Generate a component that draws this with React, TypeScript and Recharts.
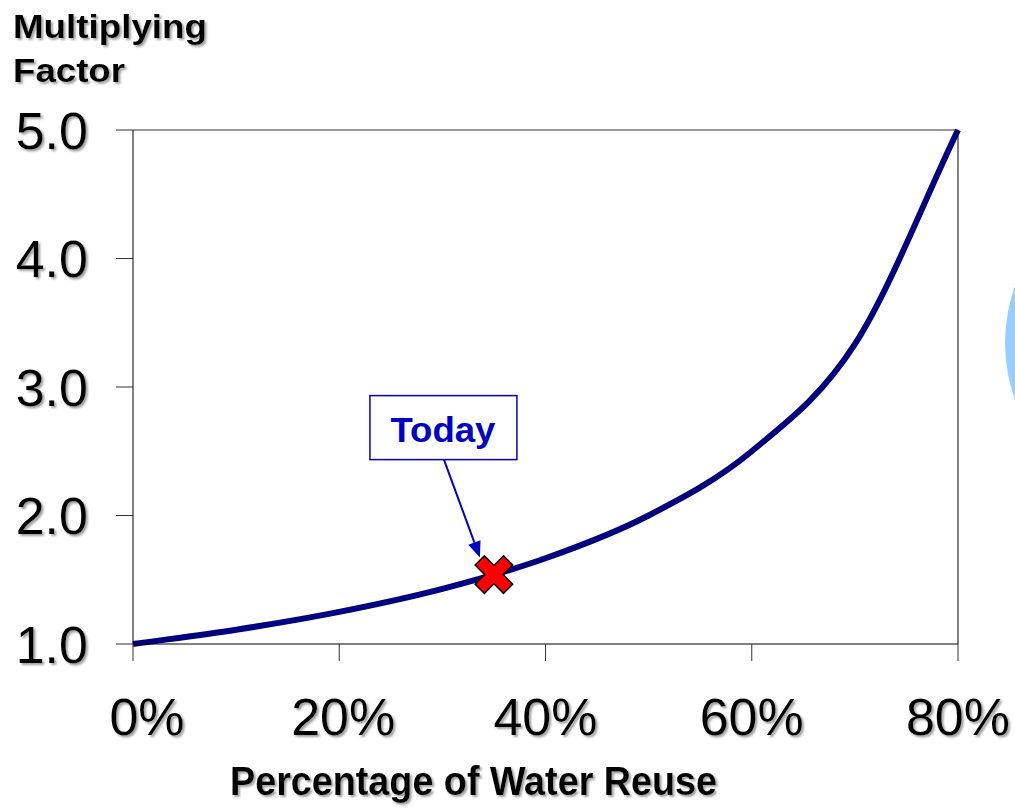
import { LineChart, Line, XAxis, YAxis, ReferenceLine, ReferenceDot } from 'recharts'

const reusePct = [0, 0.1, 0.2, 0.3, 0.4, 0.5, 0.6, 0.7, 0.8]
const factor = [1.0, 1.111, 1.25, 1.429, 1.667, 2.0, 2.5, 3.333, 5.0]
const xTicks = [0, 0.2, 0.4, 0.6, 0.8]
const yTicks = [1, 2, 3, 4, 5]
const todayPct = 0.35
const todayFactor = 1.54
const todayLabel = 'Today'
const yTitle = ['Multiplying', 'Factor']
const xTitle = 'Percentage of Water Reuse'

const data = reusePct.map((pct, i) => ({ pct, factor: factor[i] }))

const font = 'Arial, "Liberation Sans", Helvetica, sans-serif'

// Excel-style smoothed line (Catmull-Rom through the points)
function smoothCurve(context: any) {
  let pts: number[][] = []
  return {
    areaStart() {},
    areaEnd() {},
    lineStart() {
      pts = []
    },
    lineEnd() {
      const n = pts.length
      if (!n) return
      context.moveTo(pts[0][0], pts[0][1])
      for (let i = 0; i < n - 1; i++) {
        const p1 = pts[i]
        const p2 = pts[i + 1]
        const p0 = i > 0 ? pts[i - 1] : [2 * p1[0] - p2[0], 2 * p1[1] - p2[1]]
        const p3 = i + 2 < n ? pts[i + 2] : [2 * p2[0] - p1[0], 2 * p2[1] - p1[1]]
        context.bezierCurveTo(
          p1[0] + (p2[0] - p0[0]) / 6,
          p1[1] + (p2[1] - p0[1]) / 6,
          p2[0] - (p3[0] - p1[0]) / 6,
          p2[1] - (p3[1] - p1[1]) / 6,
          p2[0],
          p2[1],
        )
      }
    },
    point(x: number, y: number) {
      pts.push([+x, +y])
    },
  }
}

function YTick({ x, y, payload }: any) {
  return (
    <text x={x} y={y} dy="0.36em" textAnchor="end" fontSize={52} fontFamily={font} fill="#000" filter="url(#txtShadow)">
      {Number(payload.value).toFixed(1)}
    </text>
  )
}

function XTick({ x, y, payload, index }: any) {
  const shift = index === 0 ? 14 : index === 1 ? 4 : 0
  return (
    <text x={x + shift} y={y} dy="0.72em" textAnchor="middle" fontSize={52} fontFamily={font} fill="#000" filter="url(#txtShadow)">
      {`${Math.round(payload.value * 100)}%`}
    </text>
  )
}

function TodayMarker({ cx, cy }: any) {
  if (cx == null || cy == null) return null
  const w = 6.5
  const L = 20
  const cross = [
    [-w, -L], [w, -L], [w, -w], [L, -w], [L, w], [w, w],
    [w, L], [-w, L], [-w, w], [-L, w], [-L, -w], [-w, -w],
  ].map(([a, b]) => `${a},${b}`).join(' ')
  const x1 = cx - 50
  const y1 = cy - 115
  const x2 = cx - 14
  const y2 = cy - 17
  const len = Math.hypot(x2 - x1, y2 - y1)
  const ux = (x2 - x1) / len
  const uy = (y2 - y1) / len
  const hl = 16
  const hw = 6.5
  const bx = x2 - ux * hl
  const by = y2 - uy * hl
  const head = `${x2},${y2} ${bx - uy * hw},${by + ux * hw} ${bx + uy * hw},${by - ux * hw}`
  return (
    <g>
      <rect x={cx - 124} y={cy - 179} width={147} height={64} fill="#fff" stroke="#0000CC" strokeWidth={1.5} />
      <text
        x={cx - 51}
        y={cy - 133}
        textAnchor="middle"
        fontSize={35}
        fontWeight="bold"
        fontFamily={font}
        fill="#0000CC"
        textLength={105}
        lengthAdjust="spacingAndGlyphs"
      >
        {todayLabel}
      </text>
      <line x1={x1} y1={y1} x2={bx} y2={by} stroke="#0000CC" strokeWidth={2} />
      <polygon points={head} fill="#0000CC" />
      <polygon points={cross} transform={`translate(${cx},${cy}) rotate(45)`} fill="#FF0000" stroke="#000" strokeWidth={1.5} />
    </g>
  )
}

export default function App() {
  return (
    <div style={{ position: 'absolute', left: 0, top: 0, width: 1015, height: 809, overflow: 'hidden', background: '#fff', fontFamily: font }}>
      <svg width={0} height={0} style={{ position: 'absolute' }}>
        <defs>
          <filter id="txtShadow" x="-10%" y="-10%" width="130%" height="140%">
            <feDropShadow dx={2} dy={2} stdDeviation={1.2} floodColor="#888" floodOpacity={0.8} />
          </filter>
        </defs>
      </svg>
      <div style={{ position: 'absolute', left: 1005, top: 176, width: 334, height: 334, borderRadius: '50%', background: '#99CCFF' }} />
      <div style={{ position: 'absolute', left: 0, top: 0 }}>
        <LineChart width={1015} height={809} data={data} margin={{ top: 130, right: 57, left: 0, bottom: 0 }}>
          <XAxis
            dataKey="pct"
            type="number"
            domain={[0, 0.8]}
            ticks={xTicks}
            tickSize={17}
            tickMargin={37}
            tick={<XTick />}
            height={165}
            stroke="#000"
            tickLine={{ stroke: '#333' }}
          />
          <YAxis
            type="number"
            domain={[1, 5]}
            ticks={yTicks}
            tickSize={17}
            tickMargin={28}
            tick={<YTick />}
            width={133}
            stroke="#000"
            tickLine={{ stroke: '#333' }}
          />
          <ReferenceLine y={5} stroke="#333" strokeWidth={1.2} />
          <ReferenceLine x={0.8} stroke="#808080" strokeWidth={2} />
          <Line
            type={smoothCurve as any}
            dataKey="factor"
            stroke="#000080"
            strokeWidth={6}
            dot={false}
            activeDot={false}
            isAnimationActive={false}
          />
          <ReferenceDot x={todayPct} y={todayFactor} r={10} shape={<TodayMarker />} />
        </LineChart>
      </div>
      <svg width={1015} height={809} style={{ position: 'absolute', left: 0, top: 0, pointerEvents: 'none' }}>
        <text x={13} y={38} fontSize={33} fontWeight="bold" fontFamily={font} fill="#000" filter="url(#txtShadow)" textLength={194} lengthAdjust="spacingAndGlyphs">
          {yTitle[0]}
        </text>
        <text x={13} y={82} fontSize={33} fontWeight="bold" fontFamily={font} fill="#000" filter="url(#txtShadow)" textLength={112} lengthAdjust="spacingAndGlyphs">
          {yTitle[1]}
        </text>
        <text x={230} y={795} fontSize={40} fontWeight="bold" fontFamily={font} fill="#000" filter="url(#txtShadow)" textLength={487} lengthAdjust="spacingAndGlyphs">
          {xTitle}
        </text>
      </svg>
    </div>
  )
}
